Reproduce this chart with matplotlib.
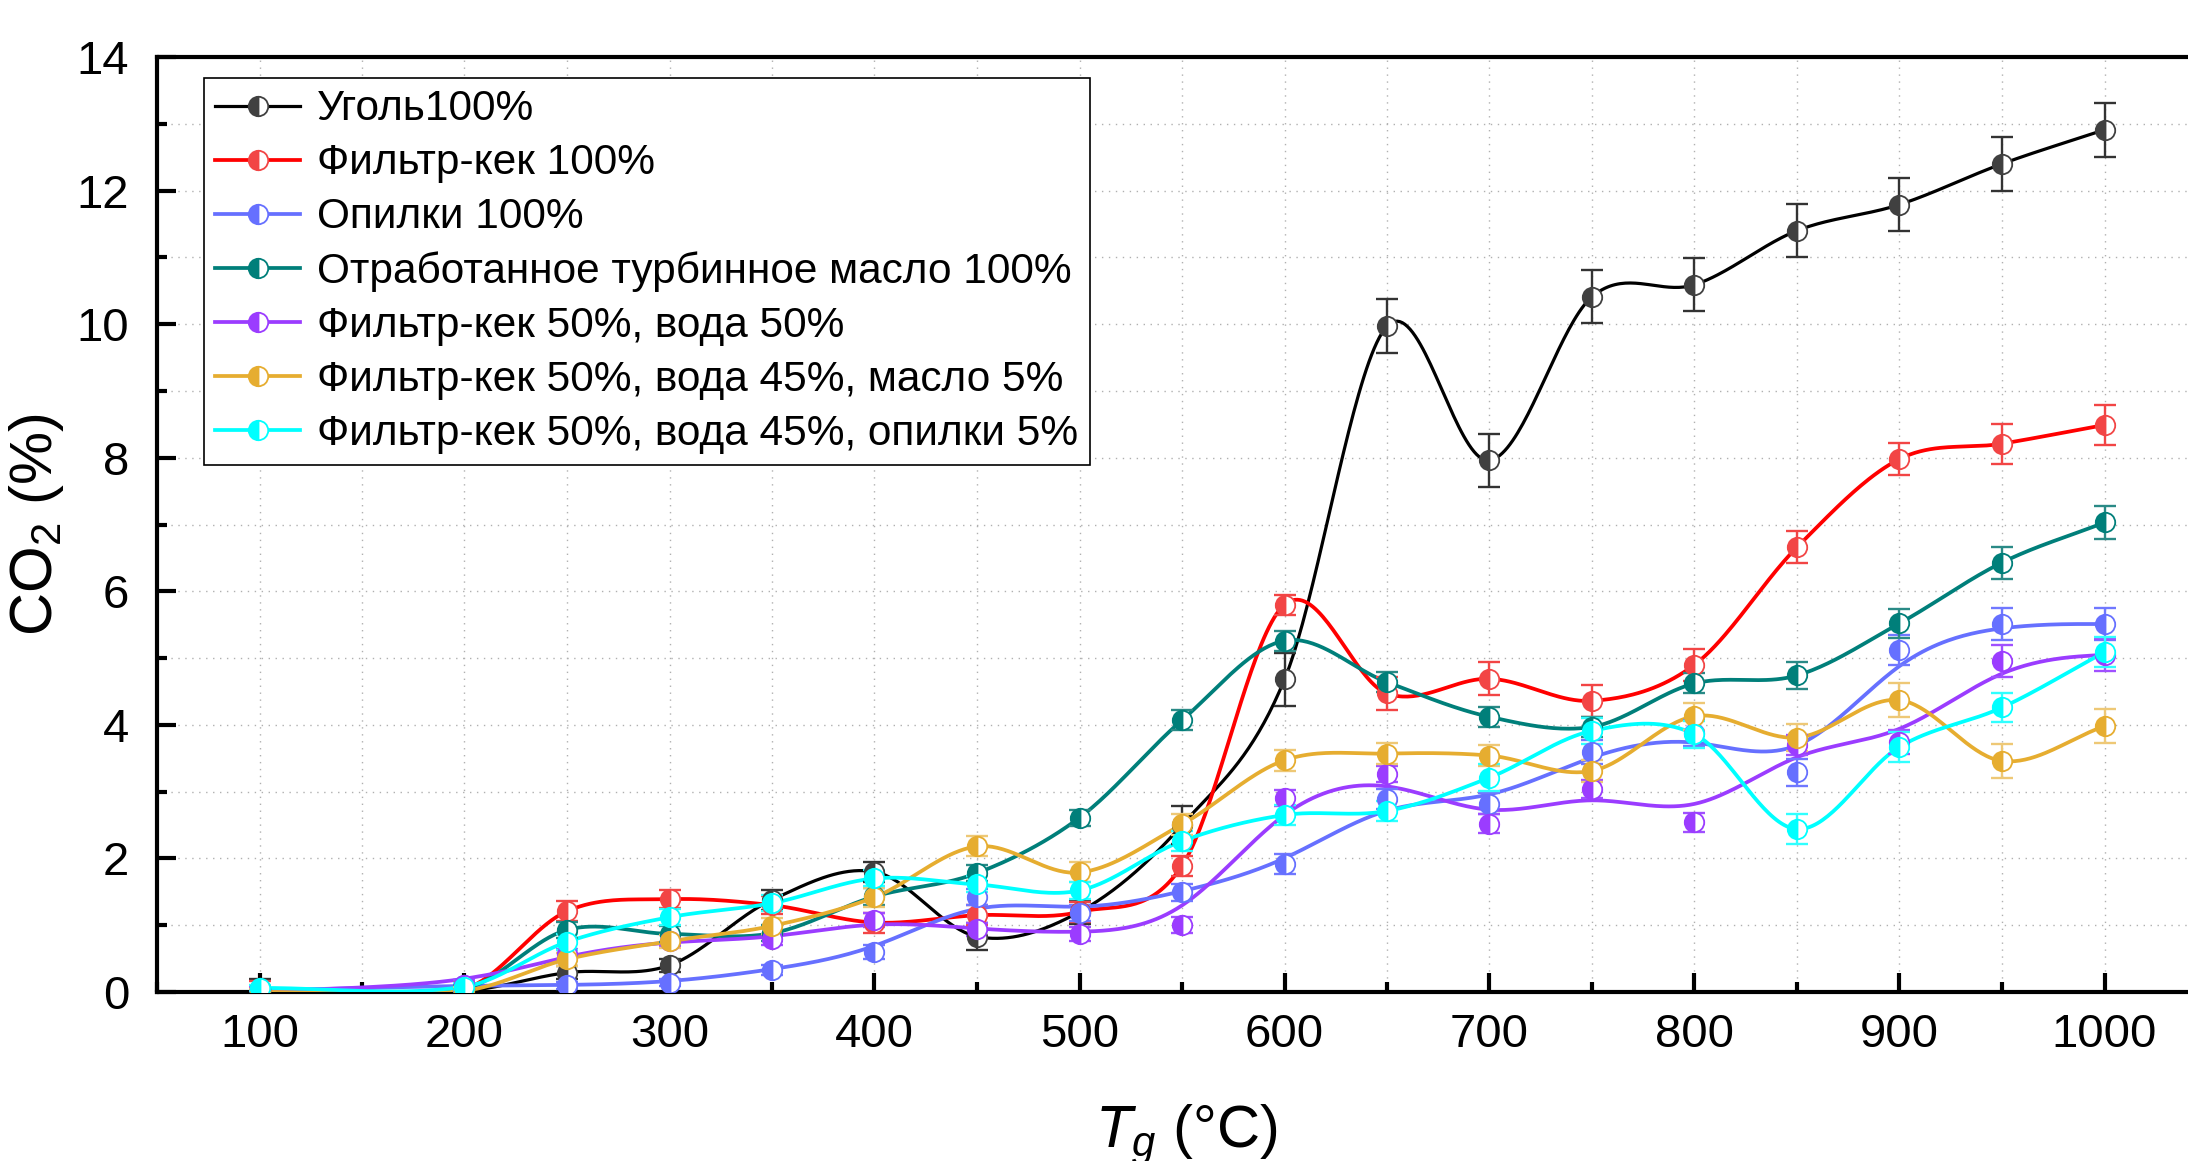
import numpy as np
import matplotlib
matplotlib.use("Agg")
import matplotlib.pyplot as plt
from matplotlib.lines import Line2D
from matplotlib.ticker import MultipleLocator

plt.rcParams['font.family'] = ['Liberation Sans', 'DejaVu Sans']
plt.rcParams['mathtext.fontset'] = 'custom'
plt.rcParams['mathtext.rm'] = 'Liberation Sans'
plt.rcParams['mathtext.it'] = 'Liberation Sans:italic'

# Gasification temperature, °C
temperature = [100, 200, 250, 300, 350, 400, 450, 500, 550, 600,
               650, 700, 750, 800, 850, 900, 950, 1000]

labels = ["Уголь100%",
          "Фильтр-кек 100%",
          "Опилки 100%",
          "Отработанное турбинное масло 100%",
          "Фильтр-кек 50%, вода 50%",
          "Фильтр-кек 50%, вода 45%, масло 5%",
          "Фильтр-кек 50%, вода 45%, опилки 5%"]

# CO2 concentration, %
co2_coal = [0.05, 0.02, 0.29, 0.40, 1.38, 1.80, 0.83, 1.20, 2.50, 4.68,
            9.97, 7.96, 10.41, 10.59, 11.40, 11.79, 12.40, 12.91]
co2_cake = [0.05, 0.05, 1.21, 1.39, 1.30, 1.04, 1.15, 1.20, 1.89, 5.80,
            4.47, 4.69, 4.36, 4.90, 6.66, 7.98, 8.21, 8.49]
co2_sawdust = [0.02, 0.10, 0.10, 0.14, 0.33, 0.60, 1.42, 1.19, 1.49, 1.91,
               2.89, 2.82, 3.59, 3.88, 3.29, 5.12, 5.51, 5.51]
co2_oil = [0.02, 0.05, 0.93, 0.87, 0.88, 1.43, 1.78, 2.61, 4.07, 5.26,
           4.64, 4.12, 3.97, 4.62, 4.74, 5.52, 6.43, 7.03]
co2_cake_water = [0.02, 0.10, 0.57, 0.77, 0.79, 1.08, 0.94, 0.87, 1.00, 2.91,
                  3.26, 2.52, 3.04, 2.54, 3.70, 3.75, 4.95, 5.05]
co2_cake_water_oil = [0.00, 0.02, 0.49, 0.76, 0.99, 1.42, 2.18, 1.79, 2.51, 3.47,
                      3.57, 3.54, 3.31, 4.13, 3.81, 4.37, 3.46, 3.98]
co2_cake_water_sawdust = [0.06, 0.08, 0.75, 1.12, 1.33, 1.70, 1.61, 1.52, 2.26, 2.65,
                          2.71, 3.21, 3.91, 3.86, 2.44, 3.67, 4.26, 5.09]

# Measurement uncertainty, %
err_coal = [0.15, 0.15, 0.10, 0.10, 0.15, 0.15, 0.20, 0.18, 0.28, 0.40,
            0.40, 0.40, 0.40, 0.40, 0.40, 0.40, 0.40, 0.40]
err_cake = [0.12, 0.10, 0.15, 0.13, 0.13, 0.15, 0.15, 0.15, 0.15, 0.15,
            0.25, 0.25, 0.24, 0.24, 0.24, 0.24, 0.30, 0.30]
err_sawdust = [0.05, 0.08, 0.05, 0.05, 0.08, 0.10, 0.12, 0.12, 0.12, 0.15,
               0.15, 0.16, 0.18, 0.20, 0.20, 0.22, 0.24, 0.24]
err_oil = [0.05, 0.05, 0.12, 0.12, 0.12, 0.12, 0.12, 0.12, 0.15, 0.15,
           0.15, 0.15, 0.15, 0.15, 0.20, 0.22, 0.24, 0.25]
err_cake_water = [0.05, 0.08, 0.08, 0.08, 0.08, 0.10, 0.10, 0.10, 0.12, 0.12,
                  0.12, 0.14, 0.14, 0.14, 0.15, 0.18, 0.24, 0.24]
err_cake_water_oil = [0.05, 0.05, 0.10, 0.10, 0.12, 0.14, 0.15, 0.15, 0.16, 0.16,
                      0.16, 0.16, 0.17, 0.20, 0.20, 0.25, 0.25, 0.25]
err_cake_water_sawdust = [0.05, 0.05, 0.12, 0.12, 0.12, 0.12, 0.12, 0.12, 0.15, 0.15,
                          0.15, 0.20, 0.20, 0.20, 0.23, 0.22, 0.22, 0.22]

series = [co2_coal, co2_cake, co2_sawdust, co2_oil,
          co2_cake_water, co2_cake_water_oil, co2_cake_water_sawdust]
errors = [err_coal, err_cake, err_sawdust, err_oil,
          err_cake_water, err_cake_water_oil, err_cake_water_sawdust]
line_colors = ['#000000', '#FF0000', '#6670FF', '#007F7A', '#9B3CFF', '#E6AD30', '#00FFFF']
mark_colors = ['#404040', '#F24545', '#6670FF', '#007F7A', '#9B3CFF', '#E6AD30', '#00FFFF']
bar_colors = ['#333333', '#F24545', '#7078FF', '#2A8A86', '#A050FF', '#EEC876', '#30FFFF']
line_widths = [2.3, 2.7, 2.7, 2.7, 2.7, 2.7, 2.7]
curve_kind = ['interp', 'interp', 'bspline', 'interp', 'bspline', 'interp', 'interp']


def hermite_curve(x, y, n=40):
    """Smooth interpolating curve (cardinal/Catmull-Rom slopes)."""
    x = np.asarray(x, float)
    y = np.asarray(y, float)
    m = np.empty_like(y)
    m[1:-1] = (y[2:] - y[:-2]) / (x[2:] - x[:-2])
    m[0] = (y[1] - y[0]) / (x[1] - x[0])
    m[-1] = (y[-1] - y[-2]) / (x[-1] - x[-2])
    xs, ys = [], []
    for i in range(len(x) - 1):
        h = x[i + 1] - x[i]
        t = np.linspace(0, 1, n, endpoint=False)
        h00 = 2 * t**3 - 3 * t**2 + 1
        h10 = t**3 - 2 * t**2 + t
        h01 = -2 * t**3 + 3 * t**2
        h11 = t**3 - t**2
        xs.append(x[i] + t * h)
        ys.append(h00 * y[i] + h10 * h * m[i] + h01 * y[i + 1] + h11 * h * m[i + 1])
    xs.append([x[-1]])
    ys.append([y[-1]])
    return np.concatenate(xs), np.concatenate(ys)


def bspline_curve(x, y, n=40):
    """Uniform cubic B-spline using the data points as control points."""
    px = np.concatenate([[x[0]] * 2, x, [x[-1]] * 2]).astype(float)
    py = np.concatenate([[y[0]] * 2, y, [y[-1]] * 2]).astype(float)
    xs, ys = [], []
    t = np.linspace(0, 1, n, endpoint=False)
    b0 = (1 - t)**3 / 6
    b1 = (3 * t**3 - 6 * t**2 + 4) / 6
    b2 = (-3 * t**3 + 3 * t**2 + 3 * t + 1) / 6
    b3 = t**3 / 6
    for j in range(len(px) - 3):
        xs.append(b0 * px[j] + b1 * px[j + 1] + b2 * px[j + 2] + b3 * px[j + 3])
        ys.append(b0 * py[j] + b1 * py[j + 1] + b2 * py[j + 2] + b3 * py[j + 3])
    xs.append([x[-1]])
    ys.append([y[-1]])
    return np.concatenate(xs), np.concatenate(ys)


W, H = 2188, 1161
fig = plt.figure(figsize=(W / 100, H / 100), dpi=100)
ax = fig.add_axes([157 / W, 1 - 992 / H, 2050 / W, (992 - 57) / H])

MS = 14
handles = []
for vals, errs, lc, mc, bc, lw, kind in zip(series, errors, line_colors, mark_colors,
                                            bar_colors, line_widths, curve_kind):
    if kind == 'bspline':
        cx, cy = bspline_curve(temperature, vals)
    else:
        cx, cy = hermite_curve(temperature, vals)
    ax.plot(cx, cy, color=lc, lw=lw, zorder=3, solid_capstyle='round')
    ax.errorbar(temperature, vals, yerr=errs, fmt='none', ecolor=bc,
                elinewidth=1.7, capsize=8, capthick=1.7, zorder=4)
    ax.plot(temperature, vals, ls='none', marker='o', ms=MS, fillstyle='left',
            markerfacecolor=mc, markerfacecoloralt='white', markeredgecolor=mc,
            markeredgewidth=1.3, zorder=5)
    handles.append(Line2D([], [], color=lc, lw=lw, marker='o', ms=MS,
                          fillstyle='left', markerfacecolor=mc,
                          markerfacecoloralt='white', markeredgecolor=mc,
                          markeredgewidth=1.3))

ax.set_xlim(50, 1050)
ax.set_ylim(0, 14)
ax.xaxis.set_major_locator(MultipleLocator(100))
ax.xaxis.set_minor_locator(MultipleLocator(50))
ax.yaxis.set_major_locator(MultipleLocator(2))
ax.yaxis.set_minor_locator(MultipleLocator(1))
ax.set_xticks(np.arange(100, 1001, 100))

ax.grid(which='both', linestyle=(0, (1, 4)), color='#b0b0b0', lw=1.0, zorder=0)
for side in ['left', 'bottom', 'top']:
    ax.spines[side].set_linewidth(3)
ax.spines['right'].set_visible(False)

ax.tick_params(which='major', direction='in', length=14, width=3, labelsize=34)
ax.tick_params(which='minor', direction='in', length=7, width=3)
ax.tick_params(axis='x', which='major', pad=15)
ax.tick_params(axis='y', which='major', pad=20)

fig.text(36 / W, 1 - 525 / H, r'CO$_2$ (%)', rotation=90, ha='center', va='center',
         fontsize=43)
fig.text(1186 / W, 1 - 1148 / H, r'$T_g$ (°C)', ha='center', va='baseline',
         fontsize=43)

leg = ax.legend(handles=handles, labels=labels, loc='upper left',
                bbox_to_anchor=(204 / W, 1 - 78 / H), bbox_transform=fig.transFigure,
                fontsize=30.5, frameon=True, fancybox=False, framealpha=1,
                edgecolor='black', borderpad=0.27, labelspacing=0.33,
                handlelength=2.0, handletextpad=0.4, borderaxespad=0)
leg.get_frame().set_linewidth(1.2)
leg.set_zorder(10)

fig.savefig('out.png', dpi=100)
